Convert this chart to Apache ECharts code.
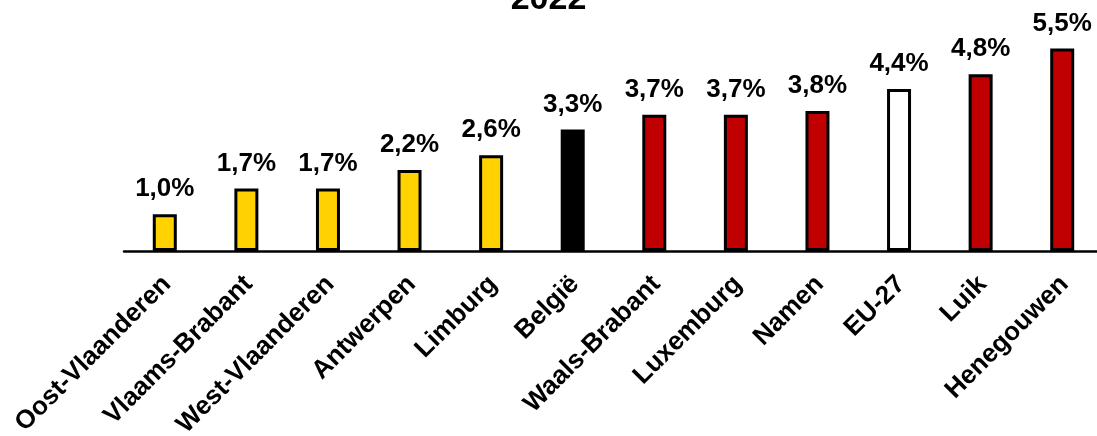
<!DOCTYPE html>
<html>
<head>
<meta charset="utf-8">
<script src="https://cdn.jsdelivr.net/npm/echarts@6/dist/echarts.min.js"></script>
<style>
  html, body { margin: 0; padding: 0; background: #fff; }
  #chart { width: 1097px; height: 436px; }
</style>
</head>
<body>
<div id="chart"></div>
<script>
const categories = ['Oost-Vlaanderen', 'Vlaams-Brabant', 'West-Vlaanderen', 'Antwerpen', 'Limburg', 'België',
    'Waals-Brabant', 'Luxemburg', 'Namen', 'EU-27', 'Luik', 'Henegouwen'];
const values = [1.0, 1.7, 1.7, 2.2, 2.6, 3.3, 3.7, 3.7, 3.8, 4.4, 4.8, 5.5];
const barColors = ['#FFD200', '#FFD200', '#FFD200', '#FFD200', '#FFD200', '#000000',
    '#C00000', '#C00000', '#C00000', '#FFFFFF', '#C00000', '#C00000'];

const chart = echarts.init(document.getElementById('chart'));

const option = {
    animation: false,
    title: {
        text: '2022',
        left: 'center',
        top: -22,
        textStyle: {
            fontFamily: 'Liberation Sans, Arial',
            fontSize: 34,
            fontWeight: 'bold',
            color: '#000',
        },
    },
    grid: {
        left: 124,
        right: -6,
        top: 30,
        bottom: 185,
        outerBoundsMode: 'none',
    },
    xAxis: {
        type: 'category',
        data: categories,
        axisLine: { lineStyle: { color: '#000', width: 2.5 } },
        axisTick: { show: false },
        axisLabel: {
            interval: 0,
            rotate: 45,
            margin: 27,
            verticalAlign: 'top',
            lineHeight: 6,
            color: '#000',
            fontFamily: 'Liberation Sans, Arial',
            fontSize: 26,
            fontWeight: 'bold',
        },
    },
    yAxis: {
        type: 'value',
        min: 0,
        max: 6,
        show: false,
    },
    series: [
        {
            type: 'bar',
            barWidth: 24,
            data: values.map((v, i) => ({
                value: v,
                itemStyle: { color: barColors[i] },
            })),
            itemStyle: {
                borderColor: '#000',
                borderWidth: 3,
            },
            label: {
                show: true,
                position: 'top',
                distance: 12,
                color: '#000',
                fontFamily: 'Liberation Sans, Arial',
                fontSize: 26,
                fontWeight: 'bold',
                formatter: (p) => p.value.toFixed(1).replace('.', ',') + '%',
            },
        },
    ],
};

chart.setOption(option);
</script>
</body>
</html>
